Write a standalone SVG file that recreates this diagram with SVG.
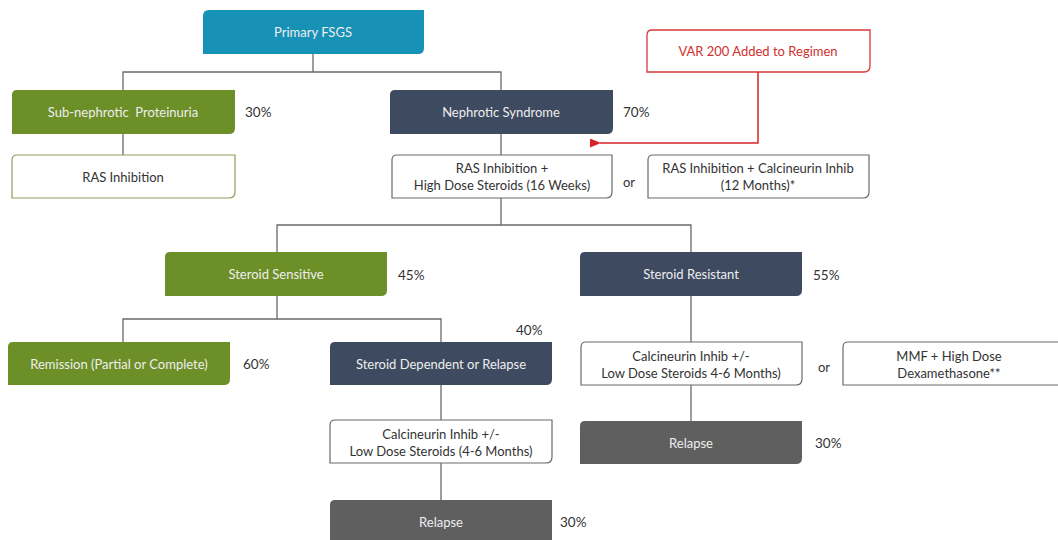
<svg xmlns="http://www.w3.org/2000/svg" width="1058" height="540" viewBox="0 0 1058 540">
<defs>
<style>
text{font-family:Lato,"Liberation Sans",sans-serif;font-size:13px;text-anchor:middle;dominant-baseline:central}
.w{fill:#eeeeee}
.d{fill:#333}
.p{fill:#333;text-anchor:start;font-size:13.5px}
.o{fill:#333;text-anchor:start}
.r{fill:#d0302e}
.blue{fill:#1891b6}
.green{fill:#6d8f27}
.navy{fill:#3e4a60}
.gray{fill:#5f5f5f}
.box{fill:#fff;stroke:#6a6a6a;stroke-width:1.2}
.gbox{fill:#fff;stroke:#8aa05a;stroke-width:1.2}
.rbox{fill:#fff;stroke:#d8393a;stroke-width:1.3}
.ln{fill:none;stroke:#6a6a6a;stroke-width:1.3}
.red{fill:none;stroke:#d8232a;stroke-width:1.5}
</style>
<marker id="ah" markerWidth="11" markerHeight="9" refX="1" refY="4.5" orient="auto" markerUnits="userSpaceOnUse">
<path d="M11,0 L0,4.5 L11,9 Z" fill="#d8232a"/>
</marker>
</defs>
<rect width="1058" height="540" fill="#fff"/>
<g id="connectors">
<path class="ln" d="M313,54 V72 M123,90 V72 H501 V90"/>
<path class="ln" d="M123,134 V155"/>
<path class="ln" d="M501,134 V155"/>
<path class="ln" d="M501,198 V225 M277,252 V225 H691 V252"/>
<path class="ln" d="M277,296 V319 M123,342 V319 H441 V342"/>
<path class="ln" d="M441,385 V420"/>
<path class="ln" d="M441,463 V500"/>
<path class="ln" d="M691,296 V342"/>
<path class="ln" d="M691,385 V421"/>
<path class="red" d="M758,72 V143 H600" marker-end="url(#ah)"/>
</g>
<g id="n-primary"><path class="blue" d="M209,10 H424 V48 Q424,54 418,54 H203 V16 Q203,10 209,10 Z"/><text class="w" x="313" y="32">Primary FSGS</text></g>
<g id="n-subneph"><path class="green" d="M17,90 H235 V128 Q235,134 229,134 H12 V95 Q12,90 17,90 Z"/><text class="w" x="123" y="112" xml:space="preserve">Sub-nephrotic  Proteinuria</text><text class="p" x="245" y="112">30%</text></g>
<g id="n-ras"><path class="gbox" d="M17,155 H235 V192 Q235,198 229,198 H12 V160 Q12,155 17,155 Z"/><text class="d" x="123" y="177">RAS Inhibition</text></g>
<g id="n-nephrotic"><path class="navy" d="M395,90 H613 V128 Q613,134 607,134 H390 V95 Q390,90 395,90 Z"/><text class="w" x="501" y="112">Nephrotic Syndrome</text><text class="p" x="623" y="112">70%</text></g>
<g id="n-var"><path class="rbox" d="M652,30 H870 V66 Q870,72 864,72 H647 V35 Q647,30 652,30 Z"/><text class="r" x="758" y="51">VAR 200 Added to Regimen</text></g>
<g id="n-rashigh"><path class="box" d="M397,155 H612 V192 Q612,198 606,198 H392 V160 Q392,155 397,155 Z"/><text class="d" x="502" y="168">RAS Inhibition +</text><text class="d" x="502" y="185">High Dose Steroids (16 Weeks)</text><text class="o" x="623" y="182">or</text></g>
<g id="n-rascal"><path class="box" d="M653,155 H869 V192 Q869,198 863,198 H648 V160 Q648,155 653,155 Z"/><text class="d" x="758" y="168">RAS Inhibition + Calcineurin Inhib</text><text class="d" x="758" y="185">(12 Months)*</text></g>
<g id="n-sens"><path class="green" d="M170,252 H387 V290 Q387,296 381,296 H165 V257 Q165,252 170,252 Z"/><text class="w" x="276" y="274">Steroid Sensitive</text><text class="p" x="398" y="275">45%</text></g>
<g id="n-resist"><path class="navy" d="M585,252 H802 V290 Q802,296 796,296 H580 V257 Q580,252 585,252 Z"/><text class="w" x="691" y="274">Steroid Resistant</text><text class="p" x="813" y="275">55%</text></g>
<g id="n-remission"><path class="green" d="M13,342 H230 V379 Q230,385 224,385 H8 V347 Q8,342 13,342 Z"/><text class="w" x="119" y="364">Remission (Partial or Complete)</text><text class="p" x="243" y="364">60%</text></g>
<g id="n-dependent"><path class="navy" d="M335,342 H552 V379 Q552,385 546,385 H330 V347 Q330,342 335,342 Z"/><text class="w" x="441" y="364">Steroid Dependent or Relapse</text><text class="p" x="516" y="330">40%</text></g>
<g id="n-cal1"><path class="box" d="M335,420 H552 V457 Q552,463 546,463 H330 V425 Q330,420 335,420 Z"/><text class="d" x="441" y="434">Calcineurin Inhib +/-</text><text class="d" x="441" y="451">Low Dose Steroids (4-6 Months)</text></g>
<g id="n-relapse1"><path class="gray" d="M335,500 H552 V540 H330 V505 Q330,500 335,500 Z"/><text class="w" x="441" y="522">Relapse</text><text class="p" x="560" y="522">30%</text></g>
<g id="n-cal2"><path class="box" d="M586,342 H802 V379 Q802,385 796,385 H581 V347 Q581,342 586,342 Z"/><text class="d" x="691" y="356">Calcineurin Inhib +/-</text><text class="d" x="691" y="373">Low Dose Steroids 4-6 Months)</text><text class="o" x="818" y="367">or</text></g>
<g id="n-mmf"><path class="box" d="M848,342 H1066 V385 H843 V347 Q843,342 848,342 Z"/><text class="d" x="949" y="356">MMF + High Dose</text><text class="d" x="949" y="373">Dexamethasone**</text></g>
<g id="n-relapse2"><path class="gray" d="M585,421 H802 V458 Q802,464 796,464 H580 V426 Q580,421 585,421 Z"/><text class="w" x="691" y="443">Relapse</text><text class="p" x="815" y="443">30%</text></g>
</svg>
